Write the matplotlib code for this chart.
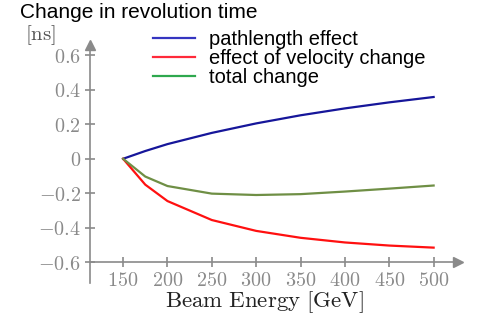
import matplotlib
matplotlib.use("Agg")
import matplotlib.pyplot as plt

plt.rcParams['mathtext.fontset'] = 'cm'

# data
energy = [150, 175, 200, 250, 300, 350, 400, 450, 500]
pathlength = [0.0, 0.045, 0.085, 0.15, 0.205, 0.252, 0.292, 0.327, 0.358]
velocity = [0.0, -0.15, -0.245, -0.355, -0.418, -0.458, -0.485, -0.503, -0.515]
total = [0.0, -0.103, -0.158, -0.202, -0.21, -0.205, -0.19, -0.173, -0.155]
labels = ["pathlength effect", "effect of velocity change", "total change"]
xticks = [150, 200, 250, 300, 350, 400, 450, 500]
yticks = [-0.6, -0.4, -0.2, 0, 0.2, 0.4, 0.6]

grey = '#8a8a8a'
fig = plt.figure(figsize=(4.83, 3.14), dpi=100)
ax = fig.add_axes([90 / 483, 1 - 283 / 314, 380 / 483, 245 / 314])
x0, x1 = 112.7, 541
y0, y1 = -0.72, 0.70
ax.set_xlim(x0, x1)
ax.set_ylim(y0, y1)

ax.plot(energy, pathlength, color='#16169a', lw=1.6, label=labels[0])
ax.plot(energy, velocity, color='#ff1010', lw=1.6, label=labels[1])
ax.plot(energy, total, color='#6f8f45', lw=1.6, label=labels[2])

# axes with arrows
for s in ['top', 'right']:
    ax.spines[s].set_visible(False)
ax.spines['left'].set_color(grey)
ax.spines['bottom'].set_color(grey)
ax.spines['left'].set_linewidth(1.2)
ax.spines['bottom'].set_linewidth(1.2)
ax.spines['bottom'].set_position(('data', -0.6))
ax.spines['left'].set_bounds(y0, y1 - 0.04)
ax.spines['bottom'].set_bounds(x0, x1 - 12)
ax.plot(x0, y1 - 0.04, '^', color=grey, ms=7, clip_on=False)
ax.plot(x1 - 14, -0.6, '>', color=grey, ms=7, clip_on=False)

ax.set_xticks(xticks)
ax.set_xticklabels([f'${v}$' for v in xticks])
ax.set_yticks(yticks)
ax.set_yticklabels(['$' + (f'{v:.1f}' if v != 0 else '0') + '$' for v in yticks])
ax.tick_params(colors=grey, direction='inout', length=7, width=1.2,
               labelsize=14.5, pad=3)

fig.text(20 / 483, 1 - 12 / 314, "Change in revolution time", fontsize=15,
         family='Liberation Sans', va='center', ha='left')
fig.text(25 / 483, 1 - 35 / 314, r'$\mathrm{[ns]}$', fontsize=15,
         color='#555555', va='center', ha='left')
fig.text(264 / 483, 1 - 302 / 314, r'$\mathrm{Beam\ Energy\ [GeV]}$',
         fontsize=16.5, va='center', ha='center', color='#222222')

leg = ax.legend(loc='upper left', bbox_to_anchor=(153 / 483, 1 - 30 / 314),
                bbox_transform=fig.transFigure, frameon=False,
                prop={'family': 'Liberation Sans', 'size': 14.5},
                handlelength=2.1, handletextpad=0.7, labelspacing=0.0,
                borderaxespad=0, borderpad=0)
legcolors = ['#3535c0', '#ff2a3a', '#2ea84e']
for h, c in zip(leg.get_lines(), legcolors):
    h.set_color(c)

fig.savefig('out.png', dpi=100)
